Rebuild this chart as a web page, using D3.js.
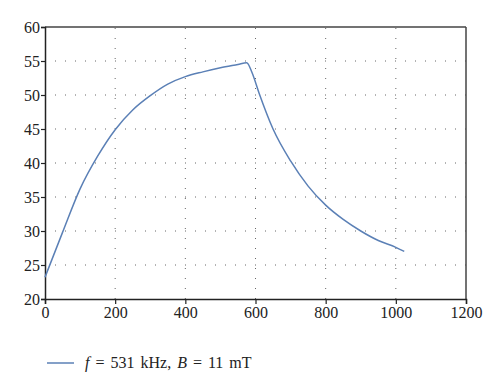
<!DOCTYPE html>
<html>
<head>
<meta charset="utf-8">
<script src="https://cdn.jsdelivr.net/npm/d3@7"></script>
<style>
  body { margin: 0; background: #fff; }
  svg text { font-family: "Liberation Serif", "DejaVu Serif", serif; fill: #222; }
</style>
</head>
<body>
<div id="chart"></div>
<script>
// values
var xValues = [0, 50, 100, 150, 200, 250, 300, 350, 400, 450, 500, 550, 575, 590, 610, 650, 700, 750, 800, 850, 900, 950, 1000, 1024];
var yValues = [23.2, 29.8, 36.2, 41.0, 44.9, 47.8, 49.9, 51.6, 52.7, 53.4, 54.0, 54.5, 54.75, 53.3, 50.3, 45.0, 40.3, 36.6, 33.8, 31.7, 30.0, 28.6, 27.6, 27.0];
var xTicks = [0, 200, 400, 600, 800, 1000, 1200];
var yTicks = [20, 25, 30, 35, 40, 45, 50, 55, 60];
var legendLabel = ["f", " = 531 kHz, ", "B", " = 11 mT"];

var width = 500, height = 384;
var margin = { top: 27, right: 34, bottom: 85, left: 45 };
var plotW = width - margin.left - margin.right;
var plotH = height - margin.top - margin.bottom;

var svg = d3.select("#chart")
  .append("svg")
  .attr("width", width)
  .attr("height", height);

var g = svg.append("g")
  .attr("transform", "translate(" + margin.left + "," + margin.top + ")");

var x = d3.scaleLinear().domain([0, 1200]).range([0, plotW]);
var y = d3.scaleLinear().domain([20, 60]).range([plotH, 0]);

// dotted grid
g.append("g")
  .selectAll("line")
  .data(yTicks.slice(1, -1))
  .enter()
  .append("line")
  .attr("x1", 0)
  .attr("x2", plotW)
  .attr("y1", function(d) { return y(d); })
  .attr("y2", function(d) { return y(d); })
  .attr("stroke", "#666")
  .attr("stroke-width", 1)
  .attr("stroke-dasharray", "1,9");

g.append("g")
  .selectAll("line")
  .data(xTicks.slice(1, -1))
  .enter()
  .append("line")
  .attr("x1", function(d) { return x(d); })
  .attr("x2", function(d) { return x(d); })
  .attr("y1", plotH)
  .attr("y2", 0)
  .attr("stroke", "#666")
  .attr("stroke-width", 1)
  .attr("stroke-dasharray", "1,9");

// frame on top and right
g.append("line")
  .attr("x1", 0).attr("x2", plotW)
  .attr("y1", 0).attr("y2", 0)
  .attr("stroke", "#444").attr("stroke-width", 1.5);
g.append("line")
  .attr("x1", plotW).attr("x2", plotW)
  .attr("y1", 0).attr("y2", plotH)
  .attr("stroke", "#444").attr("stroke-width", 1.5);

// axes
var xAxis = g.append("g")
  .attr("transform", "translate(0," + plotH + ")")
  .call(d3.axisBottom(x).tickValues(xTicks).tickSize(5).tickPadding(3).tickFormat(d3.format("d")));

var yAxis = g.append("g")
  .call(d3.axisLeft(y).tickValues(yTicks).tickSize(4).tickPadding(4).tickFormat(d3.format("d")));

[xAxis, yAxis].forEach(function(ax) {
  ax.attr("font-family", "Liberation Serif, serif").attr("font-size", 16);
  ax.select(".domain").attr("stroke", "#222").attr("stroke-width", 1.5);
  ax.selectAll(".tick line").attr("stroke", "#222").attr("stroke-width", 1.2);
  ax.selectAll("text").attr("fill", "#222");
});
yAxis.selectAll("text").attr("x", -5);

// curve
var data = xValues.map(function(v, i) { return { x: v, y: yValues[i] }; });
var line = d3.line()
  .x(function(d) { return x(d.x); })
  .y(function(d) { return y(d.y); })
  .curve(d3.curveMonotoneX);

g.append("path")
  .datum(data)
  .attr("d", line)
  .attr("fill", "none")
  .attr("stroke", "#5b80b6")
  .attr("stroke-width", 1.5);

// legend
var legend = svg.append("g").attr("transform", "translate(47,363)");
legend.append("line")
  .attr("x1", 0).attr("x2", 27)
  .attr("y1", 0).attr("y2", 0)
  .attr("stroke", "#5b80b6")
  .attr("stroke-width", 1.5);

var lt = legend.append("text")
  .attr("x", 38)
  .attr("y", 5)
  .style("font-size", "16px")
  .style("word-spacing", "2px");
lt.selectAll("tspan")
  .data(legendLabel)
  .enter()
  .append("tspan")
  .style("font-style", function(d, i) { return i % 2 === 0 ? "italic" : "normal"; })
  .style("white-space", "pre")
  .text(function(d) { return d; });
</script>
</body>
</html>
